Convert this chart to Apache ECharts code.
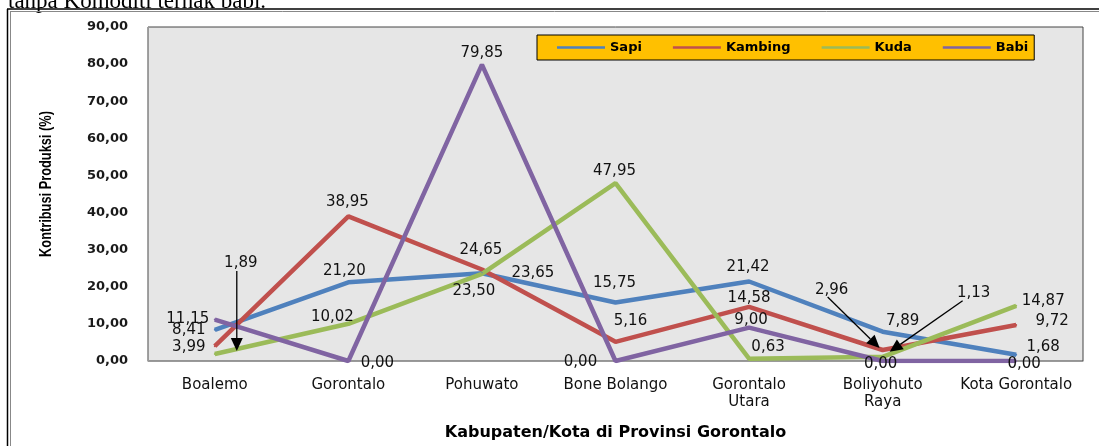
<!DOCTYPE html>
<html><head><meta charset="utf-8">
<script src="https://cdn.jsdelivr.net/npm/echarts@6/dist/echarts.min.js"></script>
<style>html,body{margin:0;padding:0;background:#fff}#c{width:1099px;height:446px}</style>
</head><body><div id="c"></div>
<script>
// ---- data ----
const categories = ['Boalemo', 'Gorontalo', 'Pohuwato', 'Bone Bolango', 'Gorontalo\nUtara', 'Boliyohuto\nRaya', 'Kota Gorontalo'];
const seriesNames = ['Sapi', 'Kambing', 'Kuda', 'Babi'];
const sapi    = [8.41, 21.20, 23.65, 15.75, 21.42, 7.89, 1.68];
const kambing = [3.99, 38.95, 24.65, 5.16, 14.58, 2.96, 9.72];
const kuda    = [1.89, 10.02, 23.50, 47.95, 0.63, 1.13, 14.87];
const babi    = [11.15, 0.00, 79.85, 0.00, 9.00, 0.00, 0.00];
const yMin = 0, yMax = 90, yStep = 10;
const yAxisTitle = 'Kontribusi Produksi (%)';
const xAxisTitle = 'Kabupaten/Kota di Provinsi Gorontalo';
const captionText = 'tanpa Komoditi ternak babi.';

// ---- presentation (label offsets in px from each point) ----
const labelOffsets = {
  Sapi:    [[-26, 0], [-4, -11], [51, 0], [-1, -19], [-1, -14], [20, -11], [27, -8]],
  Kambing: [[-26, 1], [-1, -14], [-1, -19], [15, -21], [0, -9], [-51, -60], [36, -4]],
  Kuda:    [[26, -91], [-16, -7], [-8, 17], [-1, -12], [19, -12], [91, -64], [27, -5]],
  Babi:    [[-27, -1], [29, 2], [0, -12], [-35, 1], [2, -7], [-2, 3], [8, 3]]
};
// arrows: [seriesName, categoryIndex, startOffset, endOffset]
const arrows = [
  ['Kuda', 0, [22, -83], [22, -3]],
  ['Kambing', 5, [-55, -53], [-3, -2]],
  ['Kuda', 5, [80, -56], [7, -5]]
];
const colors = { Sapi: '#4F81BD', Kambing: '#C0504D', Kuda: '#9BBB59', Babi: '#8064A2' };
const values = { Sapi: sapi, Kambing: kambing, Kuda: kuda, Babi: babi };

const fmt = v => Number(v).toFixed(2).replace('.', ',');
const FONT = "'DejaVu Sans', sans-serif";

const chart = echarts.init(document.getElementById('c'), null, { renderer: 'canvas' });

const series = seriesNames.map(name => ({
  name, type: 'line',
  data: values[name].map((v, i) => ({
    value: v,
    label: { offset: labelOffsets[name][i] }
  })),
  symbol: 'circle', symbolSize: 2, showSymbol: true,
  itemStyle: { color: colors[name] },
  lineStyle: { color: colors[name], width: 4.5 },
  emphasis: { disabled: true },
  label: {
    show: true, position: 'inside', formatter: p => fmt(p.value),
    color: '#111', fontFamily: FONT, fontSize: 15
  },
  z: 2
}));

const option = {
  animation: false,
  backgroundColor: '#ffffff',
  grid: { left: 148, right: 16, top: 27, bottom: 85, show: true, backgroundColor: '#e6e6e6', borderColor: '#444', borderWidth: 1 },
  legend: {
    data: seriesNames, left: 537, top: 35,
    icon: 'rect', itemWidth: 48, itemHeight: 2.5, itemGap: 31,
    padding: [6, 6, 6, 20],
    backgroundColor: '#FFC000', borderColor: '#000', borderWidth: 1,
    textStyle: { fontFamily: FONT, fontSize: 13, fontWeight: 'bold', color: '#000' }
  },
  xAxis: {
    type: 'category', data: categories, boundaryGap: true,
    axisLine: { lineStyle: { color: '#9a9a9a', width: 1 } },
    axisTick: { show: false },
    axisLabel: { fontFamily: FONT, fontSize: 15, color: '#111', margin: 16, lineHeight: 17, interval: 0 },
    name: xAxisTitle, nameLocation: 'middle', nameGap: 64,
    nameTextStyle: { fontFamily: FONT, fontSize: 16, fontWeight: 'bold', color: '#000' }
  },
  yAxis: {
    type: 'value', min: yMin, max: yMax, interval: yStep,
    axisLine: { show: true, lineStyle: { color: '#9a9a9a' } },
    axisTick: { show: false },
    splitLine: { show: false },
    axisLabel: { fontFamily: FONT, fontSize: 13, fontWeight: 'bold', color: '#1a1a1a', margin: 20, formatter: v => fmt(v) }
  },
  series,
  graphic: [
    { id: 'cap', type: 'text', x: 8, y: 2, silent: true,
      style: { text: captionText, font: "23px 'Liberation Serif', serif", fill: '#000', verticalAlign: 'middle' } },
    { id: 'ytitle', type: 'text', x: 47, y: 184, rotation: Math.PI / 2, scaleX: 0.8, silent: true,
      style: { text: yAxisTitle, font: "bold 16px 'Liberation Sans', Arial, sans-serif", fill: '#000', align: 'center', verticalAlign: 'middle' } },
    { id: 'fTop1', type: 'line', silent: true, shape: { x1: 7, y1: 9, x2: 1099, y2: 9 }, style: { stroke: '#000', lineWidth: 1.5 } },
    { id: 'fTop2', type: 'line', silent: true, shape: { x1: 10, y1: 11.5, x2: 1099, y2: 11.5 }, style: { stroke: '#888', lineWidth: 1 } },
    { id: 'fL1', type: 'line', silent: true, shape: { x1: 7.5, y1: 9, x2: 7.5, y2: 446 }, style: { stroke: '#000', lineWidth: 1.5 } },
    { id: 'fL2', type: 'line', silent: true, shape: { x1: 10.5, y1: 11, x2: 10.5, y2: 446 }, style: { stroke: '#888', lineWidth: 1 } }
  ]
};
chart.setOption(option);

// arrows positioned from the data points through the chart's own scales
const arrowEls = [];
arrows.forEach((a, k) => {
  const [name, ci, s, e] = a;
  const p = chart.convertToPixel({ xAxisIndex: 0, yAxisIndex: 0 }, [ci, values[name][ci]]);
  const x1 = p[0] + s[0], y1 = p[1] + s[1], x2 = p[0] + e[0], y2 = p[1] + e[1];
  const dx = x2 - x1, dy = y2 - y1, L = Math.hypot(dx, dy), ux = dx / L, uy = dy / L;
  const hl = 13, hw = 6;
  const bx = x2 - ux * hl, by = y2 - uy * hl;
  arrowEls.push({ id: 'al' + k, type: 'line', silent: true, z: 10,
    shape: { x1, y1, x2: bx, y2: by }, style: { stroke: '#000', lineWidth: 1.3 } });
  arrowEls.push({ id: 'ah' + k, type: 'polygon', silent: true, z: 10,
    shape: { points: [[x2, y2], [bx - uy * hw, by + ux * hw], [bx + uy * hw, by - ux * hw]] }, style: { fill: '#000' } });
});
chart.setOption({ graphic: arrowEls });
</script></body></html>
